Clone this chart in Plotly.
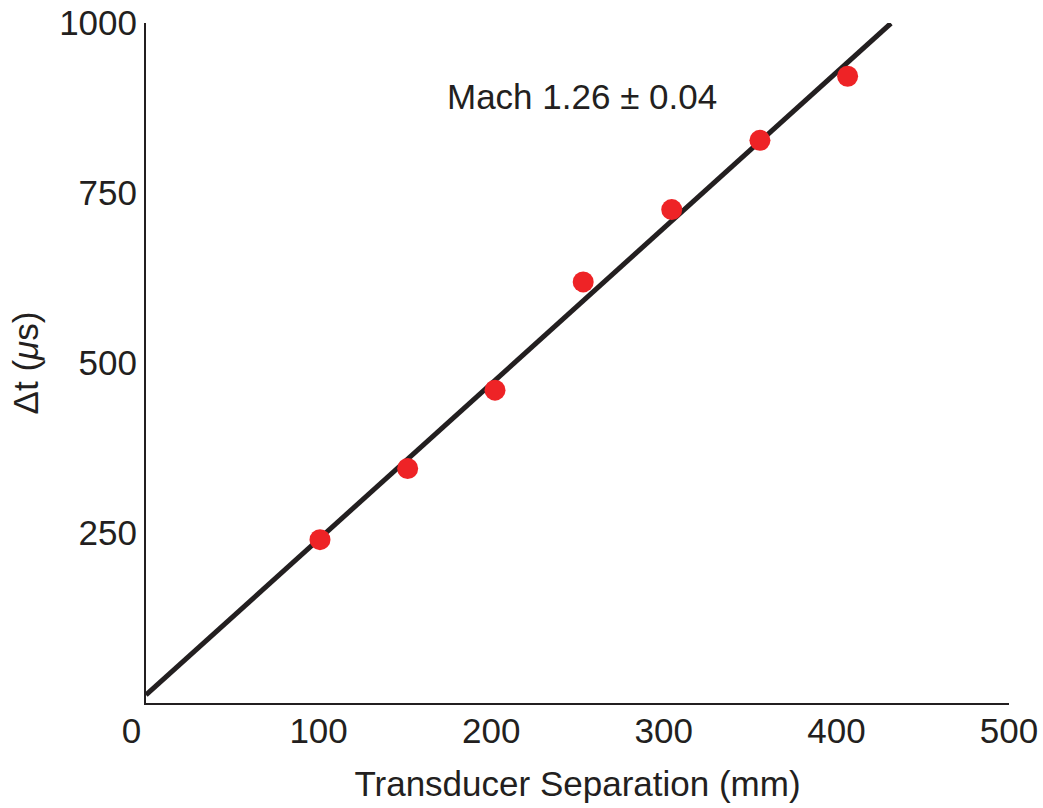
import plotly.graph_objects as go

# Data
separation_mm = [100.8, 151.6, 202.2, 253.3, 304.6, 355.7, 406.5]
delta_t_us = [240.2, 344.9, 460.1, 619.3, 725.6, 827.5, 921.7]

fit_x = [0.0, 431.6]
fit_y = [11.8, 999.6]

x_ticks = [0, 100, 200, 300, 400, 500]
x_tick_text = ["0\u00a0\u00a0\u00a0", "100", "200", "300", "400", "500"]
y_ticks = [250, 500, 750, 1000]

annotation_text = "Mach 1.26 ± 0.04"

ink = "#231F20"
red = "#EE2326"
font_family = "Liberation Sans, Arial, Helvetica, sans-serif"
fs = 35

fig = go.Figure()
fig.add_trace(go.Scatter(
    x=fit_x, y=fit_y, mode="lines",
    line=dict(color=ink, width=5),
    hoverinfo="skip", showlegend=False,
))
fig.add_trace(go.Scatter(
    x=separation_mm, y=delta_t_us, mode="markers",
    marker=dict(color=red, size=21, line=dict(width=0)),
    showlegend=False,
))

fig.add_annotation(
    x=252.6, y=892, text=annotation_text, showarrow=False,
    font=dict(size=fs, color=ink, family=font_family),
    xanchor="center", yanchor="middle",
)

fig.update_layout(
    width=1043, height=808,
    margin=dict(l=146, r=34, t=23, b=105),
    paper_bgcolor="white", plot_bgcolor="white",
    font=dict(family=font_family, size=fs, color=ink),
    xaxis=dict(
        range=[0, 500], tickmode="array", tickvals=x_ticks,
        ticktext=x_tick_text,
        showgrid=False, zeroline=False, showline=True,
        linecolor=ink, linewidth=2, ticks="",
        ticklabelstandoff=-4, automargin=False,
        title=dict(text="Transducer Separation (mm)", standoff=22,
                   font=dict(size=fs, color=ink)),
        fixedrange=True,
    ),
    yaxis=dict(
        range=[0, 1000], tickmode="array", tickvals=y_ticks,
        ticktext=[str(v) for v in y_ticks],
        showgrid=False, zeroline=False, showline=True,
        linecolor=ink, linewidth=2, ticks="",
        ticklabelstandoff=0, automargin=False,
        title=dict(text="Δt (<i>μ</i>s)", standoff=10,
                   font=dict(size=fs, color=ink)),
        fixedrange=True,
    ),
)

fig.write_html(
    "out.html",
    config={"displayModeBar": False},
    post_script="document.body.style.margin='0';document.body.style.overflow='hidden';",
)
